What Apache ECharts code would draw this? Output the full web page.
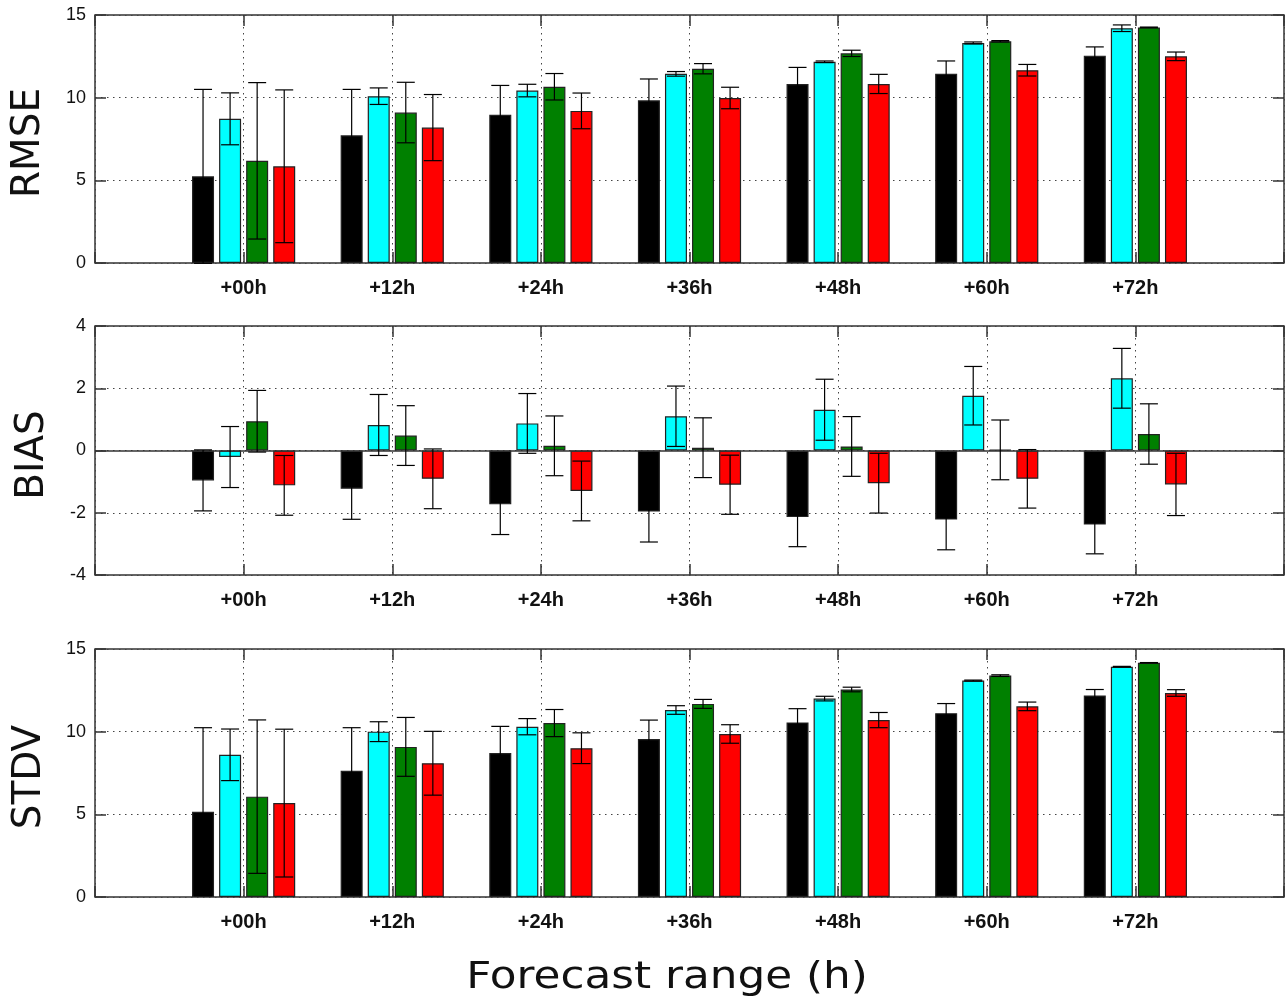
<!DOCTYPE html>
<html>
<head>
<meta charset="utf-8">
<title>RMSE / BIAS / STDV</title>
<script src="https://cdn.jsdelivr.net/npm/echarts@6/dist/echarts.min.js"></script>
<style>
    html, body { margin: 0; padding: 0; background: #fff; }
    #grafico { width: 1287px; height: 1006px; }
</style>
</head>
<body>
<div id="grafico"></div>
<script>
// Plazos de pronóstico (eje x)
var plazos = ['+00h', '+12h', '+24h', '+36h', '+48h', '+60h', '+72h'];

// RMSE: valores y barras de error
var rmseNegro = [5.24, 7.72, 8.97, 9.84, 10.83, 11.45, 12.54];
var rmseNegroErr = [5.26, 2.78, 1.77, 1.29, 1.0, 0.77, 0.53];
var rmseCian = [8.72, 10.09, 10.43, 11.44, 12.17, 13.31, 14.2];
var rmseCianErr = [1.57, 0.5, 0.38, 0.14, 0.05, 0.06, 0.2];
var rmseVerde = [6.18, 9.1, 10.66, 11.75, 12.68, 13.41, 14.25];
var rmseVerdeErr = [4.73, 1.83, 0.8, 0.31, 0.19, 0.04, 0.02];
var rmseRojo = [5.85, 8.19, 9.2, 9.98, 10.83, 11.66, 12.5];
var rmseRojoErr = [4.62, 2.0, 1.08, 0.65, 0.58, 0.35, 0.26];

// BIAS
var biasNegro = [-0.96, -1.23, -1.73, -1.96, -2.14, -2.22, -2.38];
var biasNegroErr = [0.98, 0.98, 0.97, 0.98, 0.95, 0.97, 0.94];
var biasCian = [-0.21, 0.82, 0.87, 1.1, 1.31, 1.76, 2.32];
var biasCianErr = [0.98, 0.98, 0.96, 0.97, 0.98, 0.94, 0.96];
var biasVerde = [0.94, 0.48, 0.15, 0.09, 0.13, 0.02, 0.53];
var biasVerdeErr = [0.99, 0.96, 0.96, 0.96, 0.96, 0.96, 0.97];
var biasRojo = [-1.12, -0.91, -1.3, -1.1, -1.05, -0.91, -1.09];
var biasRojoErr = [0.96, 0.96, 0.96, 0.95, 0.96, 0.94, 1.0];

// STDV
var stdvNegro = [5.16, 7.63, 8.71, 9.55, 10.56, 11.12, 12.19];
var stdvNegroErr = [5.08, 2.61, 1.61, 1.15, 0.83, 0.58, 0.36];
var stdvCian = [8.6, 10.0, 10.3, 11.31, 12.0, 13.09, 13.93];
var stdvCianErr = [1.56, 0.6, 0.49, 0.26, 0.14, 0.03, 0.02];
var stdvVerde = [6.07, 9.08, 10.52, 11.68, 12.55, 13.39, 14.17];
var stdvVerdeErr = [4.64, 1.78, 0.82, 0.27, 0.14, 0.05, 0.01];
var stdvRojo = [5.68, 8.09, 9.0, 9.86, 10.7, 11.53, 12.34];
var stdvRojoErr = [4.47, 1.93, 0.93, 0.56, 0.46, 0.26, 0.2];

var colores = ['#000000', '#00ffff', '#008000', '#ff0000'];

// Configuración de cada panel
var paneles = [
    { nombre: 'RMSE', min: 0, max: 15, intervalo: 5, top: 15, alto: 248, etiqueta: [29, 143],
      valores: [rmseNegro, rmseCian, rmseVerde, rmseRojo],
      errores: [rmseNegroErr, rmseCianErr, rmseVerdeErr, rmseRojoErr] },
    { nombre: 'BIAS', min: -4, max: 4, intervalo: 2, top: 326, alto: 249, etiqueta: [33, 455],
      valores: [biasNegro, biasCian, biasVerde, biasRojo],
      errores: [biasNegroErr, biasCianErr, biasVerdeErr, biasRojoErr] },
    { nombre: 'STDV', min: 0, max: 15, intervalo: 5, top: 649, alto: 248, etiqueta: [30, 777],
      valores: [stdvNegro, stdvCian, stdvVerde, stdvRojo],
      errores: [stdvNegroErr, stdvCianErr, stdvVerdeErr, stdvRojoErr] }
];

// Categorías vacías a los lados (-12h y +84h)
var categorias = [''].concat(plazos, ['']);

var anchoBarra = 22;
var separacion = 0.23;
var paso = anchoBarra * (1 + separacion);
var colorEje = '#333';
var lineaPunteada = { color: '#444', type: [1.5, 4.5], width: 1 };

function relleno(arr) {
    return [null].concat(arr, [null]);
}

function dibujarError(params, api) {
    var cat = api.value(0), m = api.value(1), e = api.value(2), s = api.value(3);
    var alto = api.coord([cat, m + e]);
    var bajo = api.coord([cat, m - e]);
    var x = alto[0] + (s - 1.5) * paso;
    var medio = 9;
    var estilo = { stroke: '#000', lineWidth: 1.2 };
    return {
        type: 'group',
        children: [
            { type: 'line', shape: { x1: x, y1: alto[1], x2: x, y2: bajo[1] }, style: estilo },
            { type: 'line', shape: { x1: x - medio, y1: alto[1], x2: x + medio, y2: alto[1] }, style: estilo },
            { type: 'line', shape: { x1: x - medio, y1: bajo[1], x2: x + medio, y2: bajo[1] }, style: estilo }
        ]
    };
}

var grids = [], xAxes = [], yAxes = [], series = [], graficos = [];
var n = paneles.length;

paneles.forEach(function (p, i) {
    grids.push({
        left: 95, top: p.top, width: 1190, height: p.alto,
        show: true, borderColor: colorEje, borderWidth: 1.5, backgroundColor: 'transparent'
    });

    var tick = { show: true, inside: true, length: 11, interval: 0, lineStyle: { color: colorEje, width: 1.5 } };
    var sinLinea = { show: false, onZero: false };

    xAxes[i] = {
        gridIndex: i, type: 'category', position: 'bottom', data: categorias, boundaryGap: false,
        axisLine: sinLinea, axisTick: tick, z: 3,
        axisLabel: { interval: 0, fontFamily: 'Liberation Sans', fontWeight: 'bold', fontSize: 20, color: '#111', margin: 15 },
        splitLine: { show: true, interval: 0, lineStyle: lineaPunteada }
    };
    xAxes[n + i] = {
        gridIndex: i, type: 'category', position: 'top', data: categorias, boundaryGap: false,
        axisLine: sinLinea, axisTick: tick, z: 3, axisLabel: { show: false }, splitLine: { show: false }
    };
    yAxes[i] = {
        gridIndex: i, type: 'value', position: 'left', min: p.min, max: p.max, interval: p.intervalo,
        axisLine: sinLinea, axisTick: tick,
        axisLabel: { fontFamily: 'Liberation Sans', fontSize: 18, color: '#111', margin: 9 },
        splitLine: { show: true, lineStyle: lineaPunteada }
    };
    yAxes[n + i] = {
        gridIndex: i, type: 'value', position: 'right', min: p.min, max: p.max, interval: p.intervalo,
        axisLine: sinLinea, axisTick: tick, axisLabel: { show: false }, splitLine: { show: false }
    };

    // Barras
    p.valores.forEach(function (vals, s) {
        var serie = {
            type: 'bar', xAxisIndex: i, yAxisIndex: i,
            data: relleno(vals),
            barWidth: anchoBarra, barGap: (separacion * 100) + '%',
            itemStyle: { color: colores[s], borderColor: '#222', borderWidth: 1.2 },
            z: 2
        };
        if (p.min < 0 && s === 0) {
            // línea del cero
            serie.markLine = {
                silent: true, symbol: ['none', 'none'], label: { show: false },
                lineStyle: { color: colorEje, type: 'solid', width: 1.5 },
                data: [{ yAxis: 0 }]
            };
        }
        series.push(serie);
    });

    // Barras de error
    var datosError = [];
    p.valores.forEach(function (vals, s) {
        vals.forEach(function (v, k) {
            datosError.push([k + 1, v, p.errores[s][k], s]);
        });
    });
    series.push({
        type: 'custom', xAxisIndex: i, yAxisIndex: i,
        data: datosError, encode: { x: 0, y: 1 },
        renderItem: dibujarError, z: 5, silent: true
    });

    graficos.push({
        type: 'text', x: p.etiqueta[0], y: p.etiqueta[1], rotation: Math.PI / 2,
        style: { text: p.nombre, fontSize: 39, fontFamily: 'DejaVu Sans', fill: '#111', align: 'center', verticalAlign: 'middle' }
    });
});

graficos.push({
    type: 'text', x: 667, y: 978, scaleX: 1.15,
    style: { text: 'Forecast range (h)', fontSize: 38, fontFamily: 'DejaVu Sans', fill: '#111', align: 'center', verticalAlign: 'middle' }
});

var grafico = echarts.init(document.getElementById('grafico'));
grafico.setOption({
    animation: false,
    backgroundColor: '#fff',
    grid: grids,
    xAxis: xAxes,
    yAxis: yAxes,
    series: series,
    graphic: graficos
});
</script>
</body>
</html>
